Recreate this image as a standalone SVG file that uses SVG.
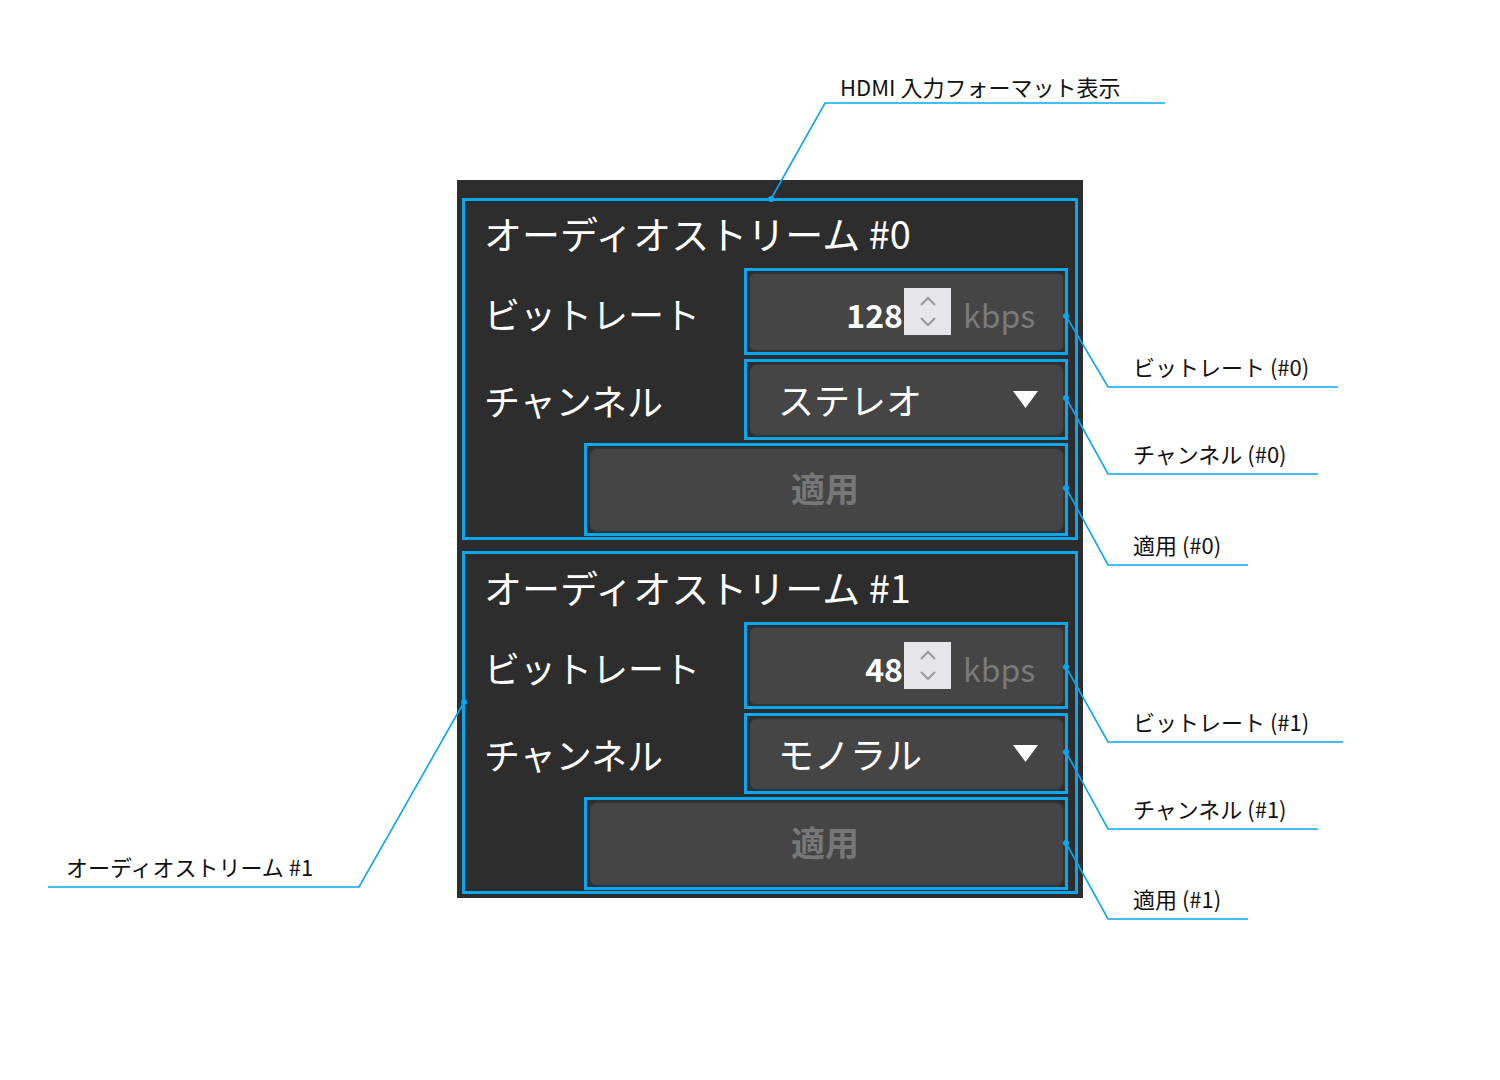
<svg xmlns="http://www.w3.org/2000/svg" width="1500" height="1080" viewBox="0 0 1500 1080">
<style>
text{font-family:"Noto Sans CJK JP","Noto Sans",sans-serif}
.hl{fill:none;stroke:#0aa6ee;stroke-width:3}
.ln{fill:none;stroke:#0aa6ee;stroke-width:1.6}
.dot{fill:#0aa6ee}
.t{fill:#fff;font-size:38px}
.l{fill:#fff;font-size:36px}
.ctl{fill:#454545;stroke:#333;stroke-width:2}
.c{fill:#111;font-size:22px}
.g{fill:#7a7a7a;font-size:32px}
</style>
<rect x="457" y="180" width="626" height="718" fill="#2d2d2d"/>
<g id="stream0">
<rect class="hl" x="463.5" y="199.5" width="613" height="339"/>
<text class="t" x="484" y="249">オーディオストリーム #0</text>
<text class="l" x="484" y="329">ビットレート</text>
<text class="l" x="484" y="416">チャンネル</text>
<g id="bitrate0"><rect class="ctl" x="749" y="273" width="315" height="78" rx="6" stroke="#666"/><rect x="904" y="288" width="47" height="47" fill="#e6e6ea"/><path d="M921 305l7-7 7 7M921 318l7 7 7-7" fill="none" stroke="#999" stroke-width="2"/><text x="903" y="328" text-anchor="end" fill="#fff" font-size="32" font-weight="bold">128</text><text class="g" x="963" y="328">kbps</text><rect class="hl" x="745.5" y="269.5" width="321" height="84"/></g>
<g id="channel0"><rect class="ctl" x="749" y="364" width="315" height="72" rx="8"/><text class="l" x="778" y="415">ステレオ</text><path d="M1013 391h25l-12.5 17z" fill="#fff"/><rect class="hl" x="745.5" y="360.5" width="321" height="78"/></g>
<g id="apply0"><rect class="ctl" x="589" y="448" width="475" height="84" rx="8"/><text x="825" y="502" text-anchor="middle" fill="#777" font-size="34" font-weight="bold">適用</text><rect class="hl" x="585.5" y="444.5" width="481" height="90"/></g>
</g>
<g id="stream1">
<rect class="hl" x="463.5" y="552.5" width="613" height="340"/>
<text class="t" x="484" y="603">オーディオストリーム #1</text>
<text class="l" x="484" y="683">ビットレート</text>
<text class="l" x="484" y="770">チャンネル</text>
<g id="bitrate1"><rect class="ctl" x="749" y="627" width="315" height="78" rx="6" stroke="#666"/><rect x="904" y="642" width="47" height="47" fill="#e6e6ea"/><path d="M921 659l7-7 7 7M921 672l7 7 7-7" fill="none" stroke="#999" stroke-width="2"/><text x="903" y="682" text-anchor="end" fill="#fff" font-size="32" font-weight="bold">48</text><text class="g" x="963" y="682">kbps</text><rect class="hl" x="745.5" y="623.5" width="321" height="84"/></g>
<g id="channel1"><rect class="ctl" x="749" y="718" width="315" height="72" rx="8"/><text class="l" x="778" y="769">モノラル</text><path d="M1013 745h25l-12.5 17z" fill="#fff"/><rect class="hl" x="745.5" y="714.5" width="321" height="78"/></g>
<g id="apply1"><rect class="ctl" x="589" y="802" width="475" height="84" rx="8"/><text x="825" y="856" text-anchor="middle" fill="#777" font-size="34" font-weight="bold">適用</text><rect class="hl" x="585.5" y="798.5" width="481" height="90"/></g>
</g>
<g id="connectors">
<polyline class="ln" points="771,199 825,103 1165,103"/><circle class="dot" cx="771" cy="199" r="3"/>
<polyline class="ln" points="1066,316 1108,387 1338,387"/><circle class="dot" cx="1066" cy="316" r="3"/>
<polyline class="ln" points="1066,398 1108,474 1318,474"/><circle class="dot" cx="1066" cy="398" r="3"/>
<polyline class="ln" points="1066,488 1108,565 1248,565"/><circle class="dot" cx="1066" cy="488" r="3"/>
<polyline class="ln" points="1066,667 1108,742 1343,742"/><circle class="dot" cx="1066" cy="667" r="3"/>
<polyline class="ln" points="1066,752 1108,829 1318,829"/><circle class="dot" cx="1066" cy="752" r="3"/>
<polyline class="ln" points="1066,843 1108,919 1248,919"/><circle class="dot" cx="1066" cy="843" r="3"/>
<polyline class="ln" points="464,702 359,887 48,887"/><circle class="dot" cx="464" cy="702" r="3"/>
</g>
<g id="labels">
<text class="c" x="840" y="96">HDMI 入力フォーマット表示</text>
<text class="c" x="1133" y="376">ビットレート (#0)</text>
<text class="c" x="1133" y="463">チャンネル (#0)</text>
<text class="c" x="1133" y="554">適用 (#0)</text>
<text class="c" x="1133" y="731">ビットレート (#1)</text>
<text class="c" x="1133" y="818">チャンネル (#1)</text>
<text class="c" x="1133" y="908">適用 (#1)</text>
<text class="c" x="66" y="876">オーディオストリーム #1</text>
</g>
</svg>
